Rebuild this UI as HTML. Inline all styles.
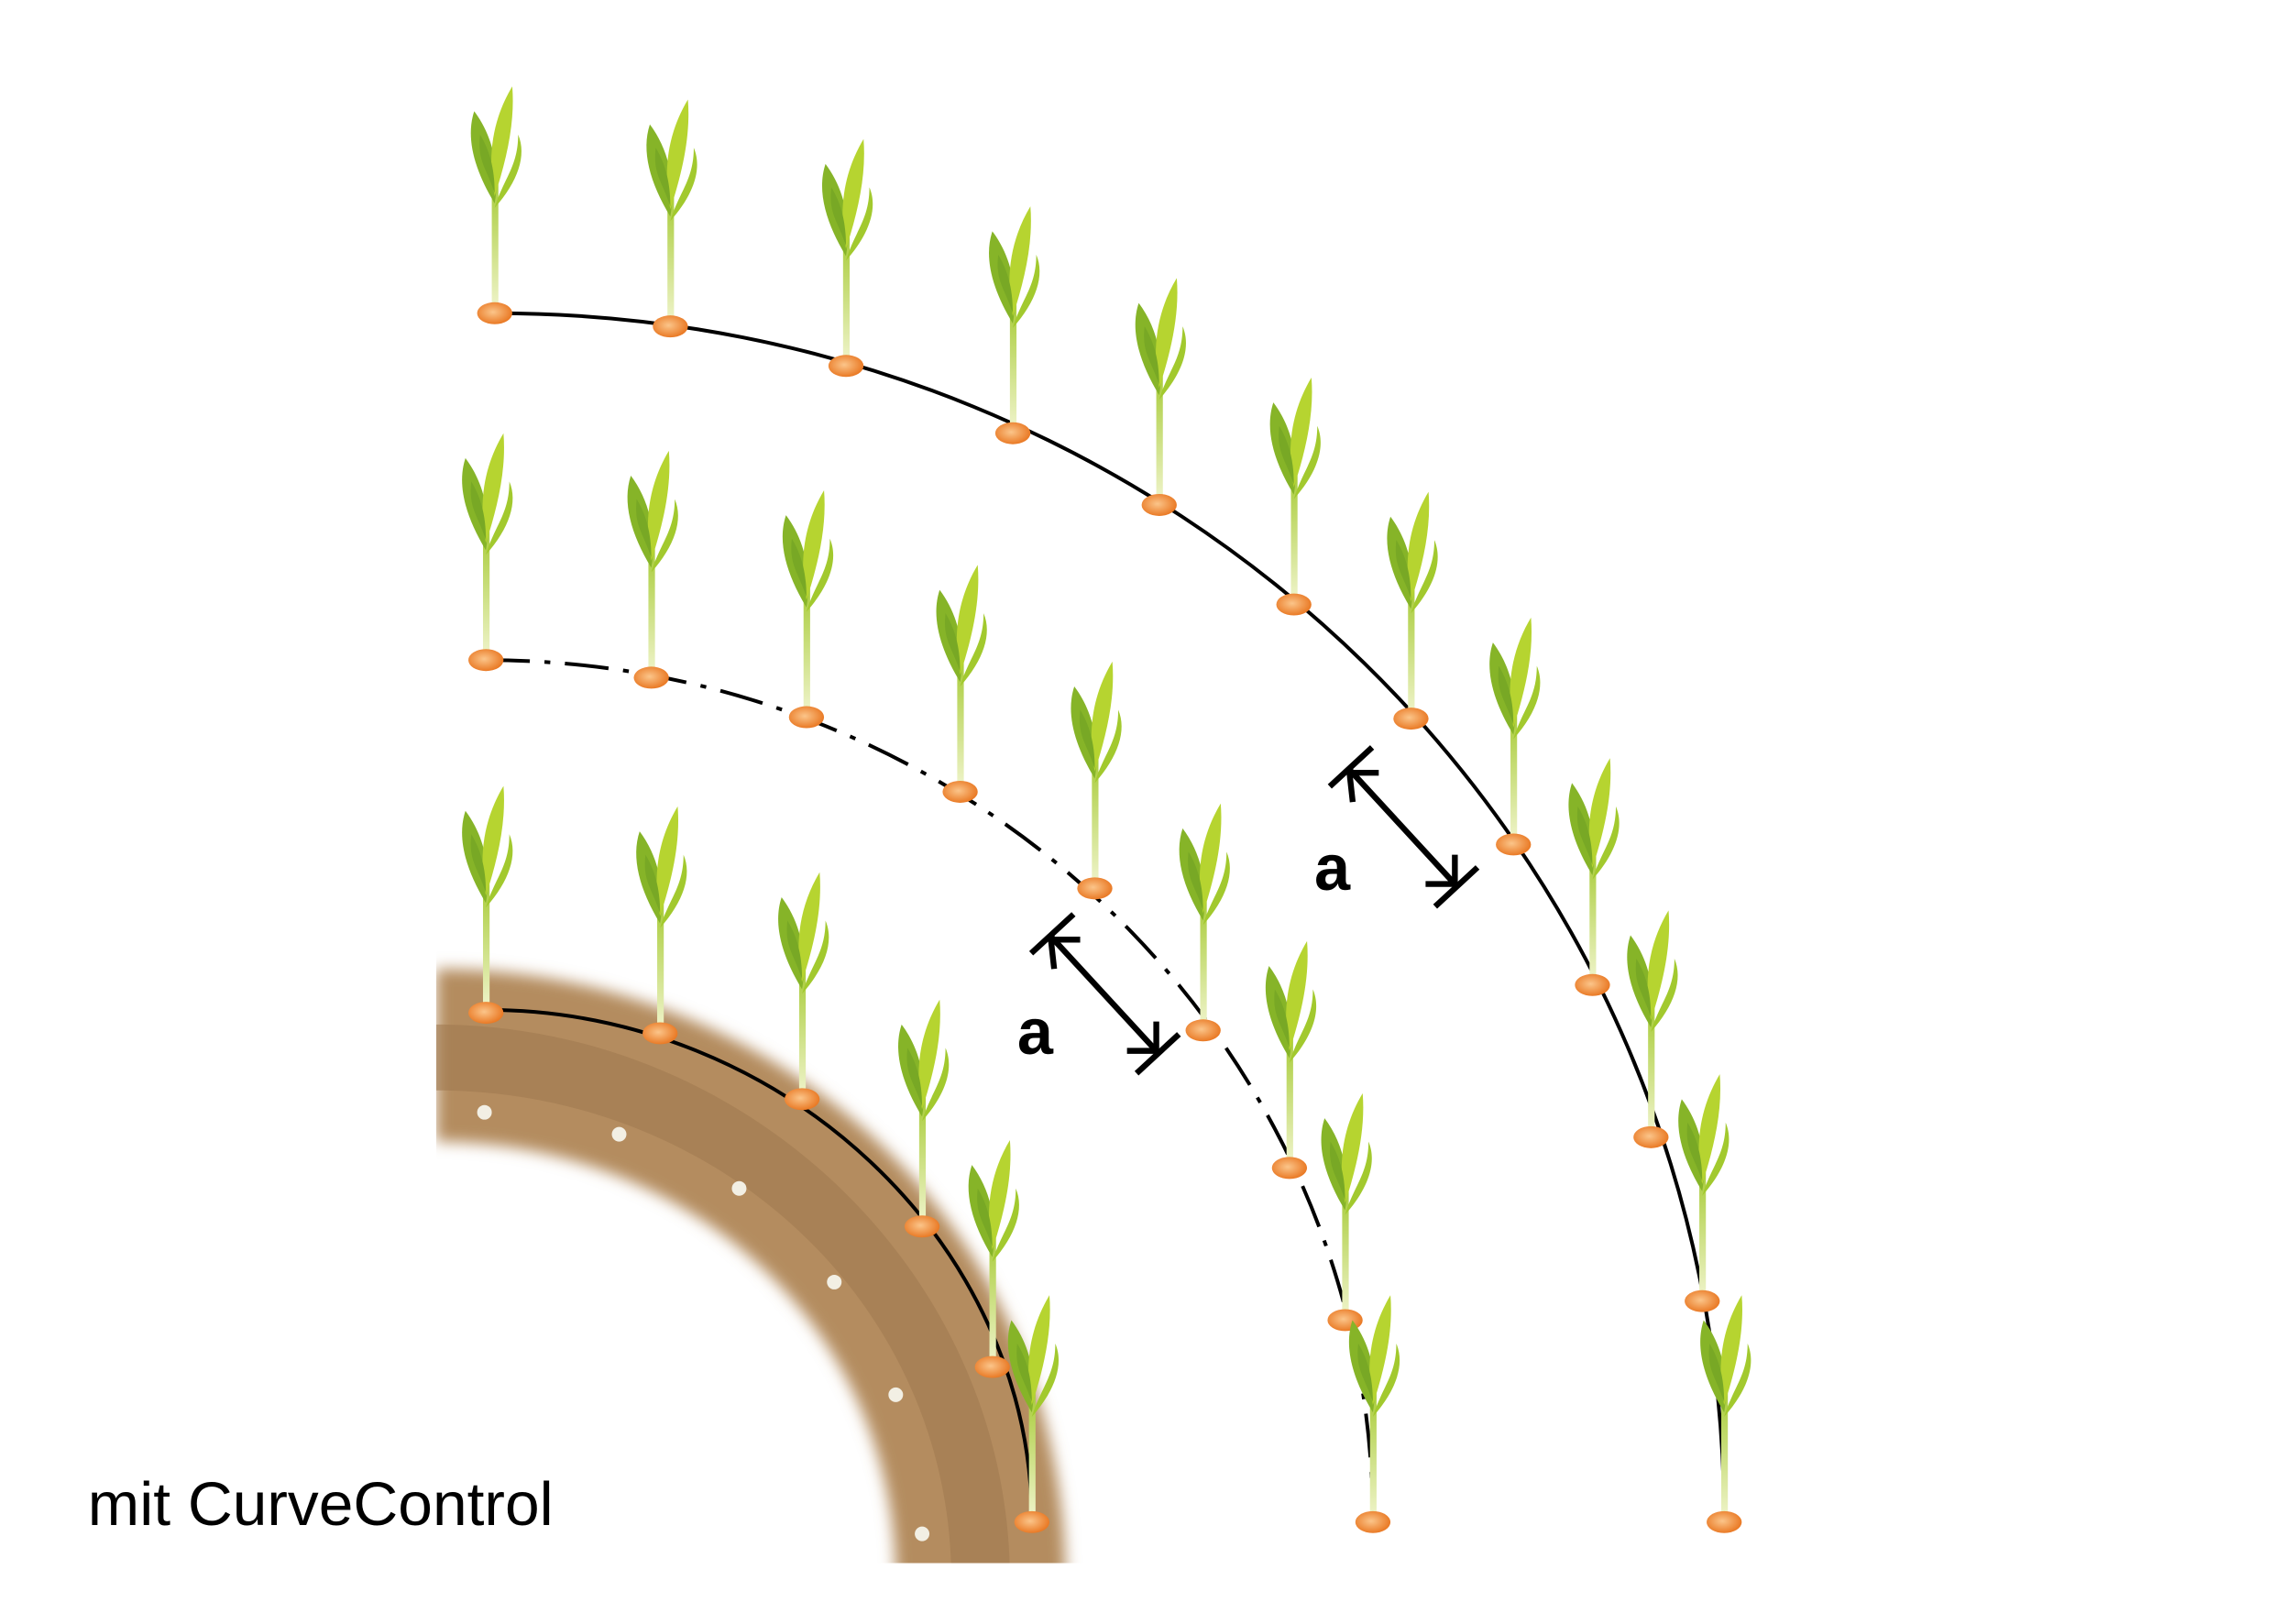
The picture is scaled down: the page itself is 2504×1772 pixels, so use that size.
<!DOCTYPE html>
<html><head><meta charset="utf-8"><style>
html,body{margin:0;padding:0;background:#fff}
svg{display:block}
</style></head><body>
<svg width="2504" height="1772" viewBox="0 0 1568 1109.6" xmlns="http://www.w3.org/2000/svg">
<defs>
<filter id="blur" x="-10%" y="-10%" width="120%" height="120%"><feGaussianBlur stdDeviation="5"/></filter>
<linearGradient id="stem" x1="0" y1="1" x2="0" y2="0"><stop offset="0" stop-color="#eef3c8"/><stop offset="1" stop-color="#a9cc3a"/></linearGradient>
<radialGradient id="seed" cx="0.45" cy="0.45" r="0.6"><stop offset="0" stop-color="#fbc58a"/><stop offset="1" stop-color="#e8731c"/></radialGradient>
<g id="p">
<path d="M-2,-4 L-2,-88 L2.5,-88 L2.5,-4Z" fill="url(#stem)"/>
<path d="M0,-75 C-14,-98 -20,-120 -14,-138 C-2,-122 4,-100 0,-75Z" fill="#86b428"/>
<path d="M0,-80 C-6,-110 0,-135 12,-155 C14,-130 8,-105 0,-80Z" fill="#b6d430"/>
<path d="M0,-72 C6,-92 16,-100 16,-122 C22,-108 16,-90 0,-72Z" fill="#a2c92e"/>
<path d="M0,-82 C-6,-100 -12,-104 -10,-122 C-4,-112 0,-100 0,-82Z" fill="#78a825"/>
<ellipse cx="0" cy="0" rx="12" ry="7.5" fill="url(#seed)"/>
</g>
</defs>
<g filter="url(#blur)">
<path d="M298,662 C535,662 728,843 728,1080 L612,1080 C612,907 470,780 298,780Z" fill="#b48c5f"/>
</g>
<path d="M298,700 C510,700 690,870 690,1080 L650,1080 C650,890 490,745 298,745Z" fill="#a07a50" opacity="0.6"/>
<rect x="280" y="640" width="18" height="460" fill="#fff"/>
<rect x="280" y="1068" width="500" height="50" fill="#fff"/>
<g fill="#f2efe4">
<circle cx="331" cy="760" r="5"/><circle cx="423" cy="775" r="5"/><circle cx="505" cy="812" r="5"/>
<circle cx="570" cy="876" r="5"/><circle cx="612" cy="953" r="5"/><circle cx="630" cy="1048" r="5"/>
</g>
<path d="M338,214 C802,214 1178,576 1178,1040" fill="none" stroke="#000" stroke-width="2.5"/>
<path d="M332,451 C665,451 938,715 938,1040" fill="none" stroke="#000" stroke-width="2.5" stroke-dasharray="30,10,4,10"/>
<path d="M332,690 C535,690 705,850 705,1040" fill="none" stroke="#000" stroke-width="2.5"/>
<g>
<use href="#p" x="338" y="214"/><use href="#p" x="458" y="223"/><use href="#p" x="578" y="250"/><use href="#p" x="692" y="296"/><use href="#p" x="792" y="345"/><use href="#p" x="884" y="413"/><use href="#p" x="964" y="491"/><use href="#p" x="1034" y="577"/><use href="#p" x="1088" y="673"/><use href="#p" x="1128" y="777"/><use href="#p" x="1163" y="889"/><use href="#p" x="1178" y="1040"/>
<use href="#p" x="332" y="451"/><use href="#p" x="445" y="463"/><use href="#p" x="551" y="490"/><use href="#p" x="656" y="541"/><use href="#p" x="748" y="607"/><use href="#p" x="822" y="704"/><use href="#p" x="881" y="798"/><use href="#p" x="919" y="902"/><use href="#p" x="938" y="1040"/>
<use href="#p" x="332" y="692"/><use href="#p" x="451" y="706"/><use href="#p" x="548" y="751"/><use href="#p" x="630" y="838"/><use href="#p" x="678" y="934"/><use href="#p" x="705" y="1040"/>
</g>
<g stroke="#000" stroke-width="4" fill="none" stroke-linecap="square">
<line x1="924" y1="528" x2="994" y2="604"/>
<line x1="910" y1="536" x2="936" y2="512"/>
<line x1="982" y1="618" x2="1008" y2="594"/>
<polyline points="924,546 922,528 940,528"/>
<polyline points="976,604 994,604 994,586"/>
<line x1="720" y1="642" x2="790" y2="718"/>
<line x1="706" y1="650" x2="732" y2="626"/>
<line x1="778" y1="732" x2="804" y2="708"/>
<polyline points="720,660 718,642 736,642"/>
<polyline points="772,718 790,718 790,700"/>
</g>
<text x="898" y="608" font-family="Liberation Sans, sans-serif" font-weight="bold" font-size="44" fill="#000">a</text>
<text x="695" y="720" font-family="Liberation Sans, sans-serif" font-weight="bold" font-size="44" fill="#000">a</text>
<text x="60" y="1042" font-family="Liberation Sans, sans-serif" font-size="42" textLength="318" lengthAdjust="spacingAndGlyphs" fill="#000">mit CurveControl</text>
</svg>
</body></html>
